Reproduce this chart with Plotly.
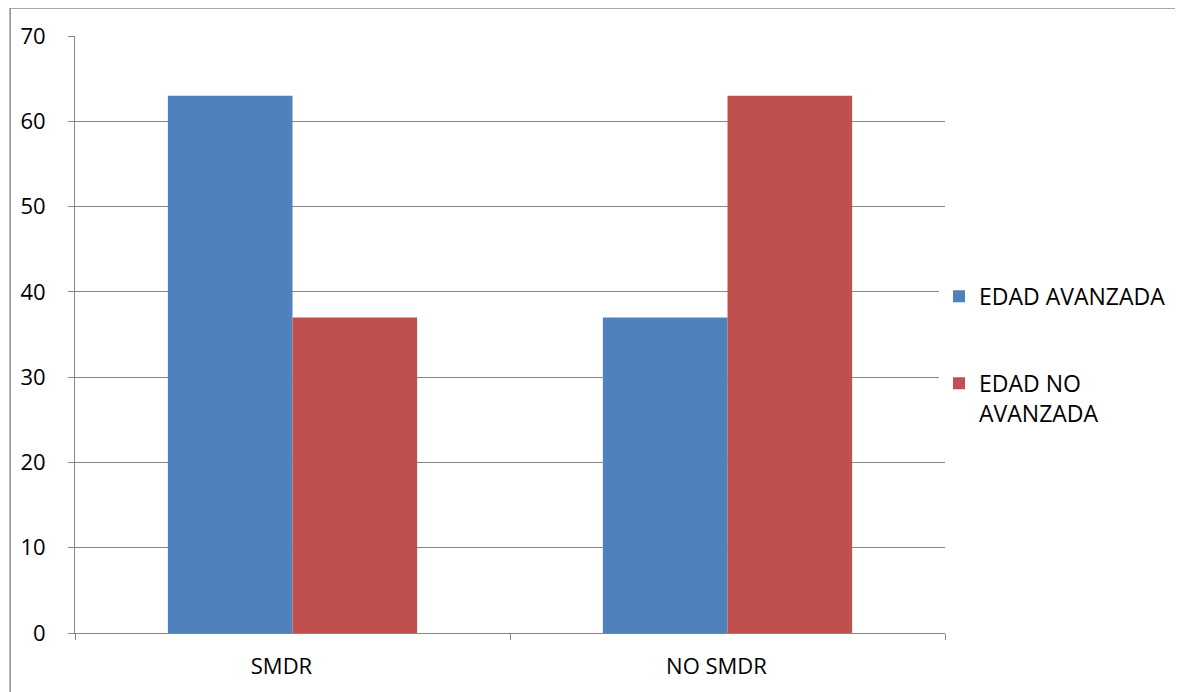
import plotly.graph_objects as go

categories = ["SMDR", "NO SMDR"]
edad_avanzada = [63, 37]
edad_no_avanzada = [37, 63]
y_ticks = [0, 10, 20, 30, 40, 50, 60, 70]

FONT = "Open Sans"
GRID = "#868686"

fig = go.Figure()
fig.add_trace(go.Bar(x=categories, y=edad_avanzada, name="EDAD AVANZADA",
                     marker=dict(color="#4F81BD", line=dict(width=0)), legendgroup="a"))
fig.add_trace(go.Bar(x=categories, y=edad_no_avanzada, name="EDAD NO<br>AVANZADA",
                     marker=dict(color="#C0504D", line=dict(width=0)), legendgroup="b"))

# page body has an 8px margin, so the figure is offset by (8, 8)
fig.update_layout(
    width=1175, height=684,
    margin=dict(l=63, r=232, t=25, b=53),
    paper_bgcolor="white", plot_bgcolor="white",
    barmode="group", bargap=0.427, bargroupgap=0,
    font=dict(family=FONT, size=22, color="black"),
    legend=dict(x=1.0 - 6 / 872, xanchor="left", xref="paper", y=0.60, yanchor="top",
                tracegroupgap=54, valign="top", itemwidth=30,
                font=dict(family=FONT, size=23, color="black")),
    xaxis=dict(type="category", tickson="boundaries", ticks="outside", ticklen=6,
               tickcolor=GRID, showline=True, linecolor=GRID, linewidth=1,
               showgrid=False, ticklabelstandoff=14, ticklabelshift=-11),
    yaxis=dict(range=[0, 70], tickvals=y_ticks, ticks="outside", ticklen=6,
               tickcolor=GRID, showline=True, linecolor=GRID, linewidth=1,
               showgrid=True, gridcolor=GRID, gridwidth=1, zeroline=False,
               ticklabelstandoff=18),
    shapes=[dict(type="rect", xref="paper", yref="paper",
                 x0=-65 / 872, x1=1.5, y0=-0.5, y1=1 + 28 / 598,
                 line=dict(color="#8c8c8c", width=1.5), fillcolor="rgba(0,0,0,0)", layer="below")],
)

fig.write_html("out.html")
